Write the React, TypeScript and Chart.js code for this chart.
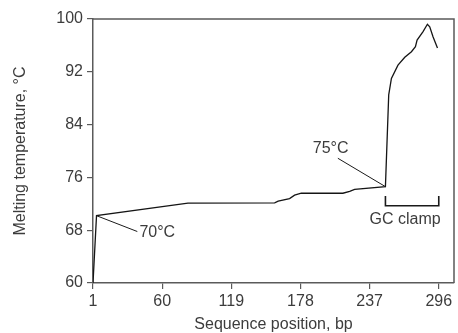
import React, { useEffect, useRef } from "react";
import { Chart, registerables } from "chart.js";

Chart.register(...registerables);

// Sequence position (bp) and melting temperature (°C)
const positions = [1, 4, 82, 156, 159, 168.7, 173, 178.7, 214.2, 220, 224.2, 250.5, 253.3, 255.6, 261.2, 267, 272.7, 276.1, 277.5, 282.6, 286.3, 288.3, 291.1, 294.9];
const meltingTemps = [60, 70.2, 72.1, 72.15, 72.4, 72.8, 73.3, 73.6, 73.6, 73.9, 74.2, 74.6, 88.5, 91.0, 93.0, 94.2, 95.05, 95.8, 96.8, 98.1, 99.2, 98.8, 97.3, 95.6];

const xTickValues = [1, 60, 119, 178, 237, 296];
const yTickValues = [60, 68, 76, 84, 92, 100];

const xTitle = "Sequence position, bp";
const yTitle = "Melting temperature, °C";

// annotations (in data coordinates)
const label70 = { text: "70°C", point: [4, 70.2], lineEnd: [38.8, 67.8], textAt: [40.6, 67.7] };
const label75 = { text: "75°C", point: [250.5, 74.6], lineEnd: [209.9, 78.9], textAt: [188.5, 80.35] };
const gcClamp = { text: "GC clamp", from: 250.5, to: 296, top: 73.2, bottom: 71.7, textAt: [267.3, 69.6] };

const FONT = "'Liberation Sans', Arial, Helvetica, sans-serif";
const TEXT = "#3c3c3c";
const AXIS = "#5a5a5a";
const FS = 16;

export default function App() {
  const ref = useRef<HTMLCanvasElement | null>(null);

  useEffect(() => {
    document.body.style.margin = "0";
    const canvas = ref.current!;
    const annotPlugin = {
      id: "annot",
      afterDatasetsDraw(chart: any) {
        const { ctx, chartArea } = chart;
        const xs = chart.scales.x;
        const ys = chart.scales.y;
        const px = (v: number) => xs.getPixelForValue(v);
        const py = (v: number) => ys.getPixelForValue(v);
        ctx.save();
        // frame top & right
        ctx.strokeStyle = AXIS;
        ctx.lineWidth = 1.5;
        ctx.beginPath();
        ctx.moveTo(chartArea.left, chartArea.top);
        ctx.lineTo(chartArea.right, chartArea.top);
        ctx.lineTo(chartArea.right, chartArea.bottom);
        ctx.stroke();
        // leader lines
        ctx.strokeStyle = "#1a1a1a";
        ctx.lineWidth = 1;
        for (const l of [label70, label75]) {
          ctx.beginPath();
          ctx.moveTo(px(l.point[0]), py(l.point[1]));
          ctx.lineTo(px(l.lineEnd[0]), py(l.lineEnd[1]));
          ctx.stroke();
        }
        // bracket
        ctx.lineWidth = 1.6;
        ctx.beginPath();
        ctx.moveTo(px(gcClamp.from), py(gcClamp.top));
        ctx.lineTo(px(gcClamp.from), py(gcClamp.bottom));
        ctx.lineTo(px(gcClamp.to), py(gcClamp.bottom));
        ctx.lineTo(px(gcClamp.to), py(gcClamp.top));
        ctx.stroke();
        // texts
        ctx.fillStyle = TEXT;
        ctx.font = `${FS}px ${FONT}`;
        ctx.textBaseline = "middle";
        ctx.textAlign = "left";
        ctx.fillText(label70.text, px(label70.textAt[0]), py(label70.textAt[1]));
        ctx.fillText(label75.text, px(label75.textAt[0]), py(label75.textAt[1]));
        ctx.textAlign = "center";
        ctx.fillText(gcClamp.text, px(gcClamp.textAt[0]), py(gcClamp.textAt[1]));
        ctx.restore();
      },
    };

    const chart = new Chart(canvas, {
      type: "line",
      data: {
        datasets: [
          {
            data: positions.map((p, i) => ({ x: p, y: meltingTemps[i] })),
            borderColor: "#151515",
            borderWidth: 1.3,
            pointRadius: 0,
            tension: 0,
            fill: false,
          },
        ],
      },
      options: {
        animation: false,
        responsive: false,
        maintainAspectRatio: false,
        events: [],
        layout: { padding: { top: 19, right: 4, left: 0, bottom: 0 } },
        plugins: { legend: { display: false }, tooltip: { enabled: false } },
        scales: {
          x: {
            type: "linear",
            min: 1,
            max: 309,
            afterBuildTicks: (s: any) => {
              s.ticks = xTickValues.map((v) => ({ value: v }));
            },
            afterFit: (s: any) => {
              s.height = 50;
            },
            grid: { drawOnChartArea: false, drawTicks: true, tickLength: 6, color: AXIS, lineWidth: 1.2 },
            border: { color: AXIS, width: 1.5 },
            ticks: { color: TEXT, font: { family: FONT, size: FS }, padding: 3, maxRotation: 0, autoSkip: false },
            title: { display: true, text: xTitle, color: TEXT, font: { family: FONT, size: FS, lineHeight: 1 }, padding: { top: 0, bottom: 0 } },
          },
          y: {
            type: "linear",
            min: 60,
            max: 100,
            afterBuildTicks: (s: any) => {
              s.ticks = yTickValues.map((v) => ({ value: v }));
            },
            afterFit: (s: any) => {
              s.width = 93;
            },
            grid: { drawOnChartArea: false, drawTicks: true, tickLength: 6, color: AXIS, lineWidth: 1.2 },
            border: { color: AXIS, width: 1.5 },
            ticks: { color: TEXT, font: { family: FONT, size: FS }, padding: 4, autoSkip: false },
            title: { display: true, text: yTitle, color: TEXT, font: { family: FONT, size: FS, lineHeight: 1 }, padding: { top: 13, bottom: 0 } },
          },
        },
      },
      plugins: [annotPlugin],
    });
    return () => chart.destroy();
  }, []);

  return (
    <div style={{ position: "absolute", left: 0, top: 0, width: 458, height: 333 }}>
      <canvas ref={ref} width={458} height={333} style={{ width: 458, height: 333, display: "block" }} />
    </div>
  );
}
